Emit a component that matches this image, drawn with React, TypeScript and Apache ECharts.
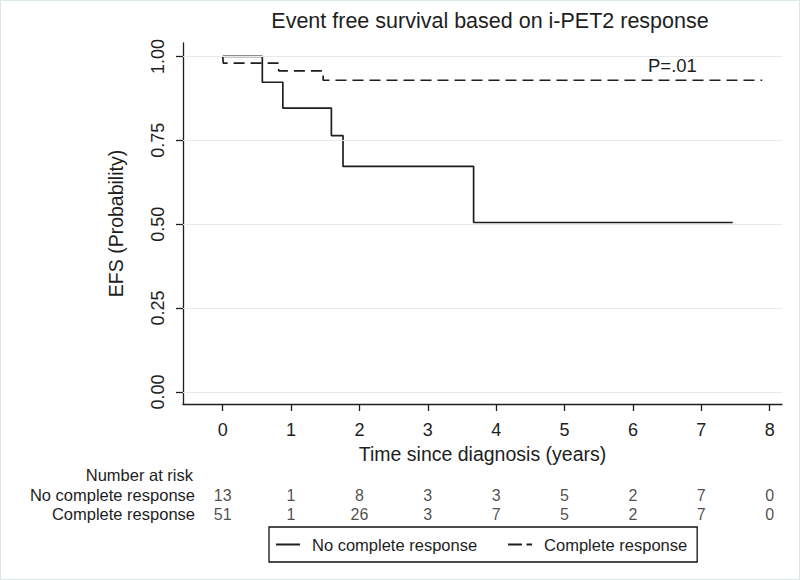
import React, { useEffect, useRef } from "react";
import * as echarts from "echarts";

const xTicks = [0, 1, 2, 3, 4, 5, 6, 7, 8];
const yTicks = [0, 0.25, 0.5, 0.75, 1];
const seriesNames = ["No complete response", "Complete response"];
// Kaplan-Meier steps [time, survival]
const noCR: [number, number][] = [
  [0, 1], [0.58, 0.923], [0.88, 0.846], [1.59, 0.764], [1.76, 0.672], [3.67, 0.505], [7.46, 0.505],
];
const cR: [number, number][] = [
  [0, 1], [0.01, 0.98], [0.82, 0.957], [1.47, 0.929], [7.89, 0.929],
];
const riskNoCR = [13, 1, 8, 3, 3, 5, 2, 7, 0];
const riskCR = [51, 1, 26, 3, 7, 5, 2, 7, 0];
const pText = "P=.01";

const FONT = "Liberation Sans, Arial, sans-serif";
const INK = "#1e1e1e";

export default function App() {
  const ref = useRef<HTMLDivElement>(null);
  useEffect(() => {
    const chart = echarts.init(ref.current!, undefined, { renderer: "svg" });
    const xMin = -0.58, xMax = 8.18;
    const riskData = [
      ...riskNoCR.map((v, i) => [xTicks[i], 1, v]),
      ...riskCR.map((v, i) => [xTicks[i], 0, v]),
    ];
    chart.setOption({
      animation: false,
      backgroundColor: "#fff",
      title: {
        text: "Event free survival based on i-PET2 response",
        left: 484,
        textAlign: "center",
        top: 4,
        textStyle: { fontFamily: FONT, fontSize: 21.5, fontWeight: "normal", color: INK },
      },
      grid: [
        { left: 182, right: 17, top: 42, bottom: 175 },
        { left: 182, right: 17, top: 484.5, height: 38 },
      ],
      xAxis: [
        {
          type: "value",
          gridIndex: 0,
          min: xMin,
          max: xMax,
          name: "Time since diagnosis (years)",
          nameLocation: "middle",
          nameGap: 34,
          nameTextStyle: { fontFamily: FONT, fontSize: 19.5, color: INK },
          axisLine: { show: true, onZero: false, lineStyle: { color: INK, width: 1.3 } },
          axisTick: { show: true, customValues: xTicks, length: 7, lineStyle: { color: INK, width: 1.3 } },
          axisLabel: { customValues: xTicks, fontFamily: FONT, fontSize: 18, color: INK, margin: 17 },
          splitLine: { show: false },
        },
        {
          type: "value",
          gridIndex: 1,
          min: xMin,
          max: xMax,
          show: false,
        },
      ],
      yAxis: [
        {
          type: "value",
          gridIndex: 0,
          min: -0.036,
          max: 1.04,
          name: "EFS (Probability)",
          nameLocation: "middle",
          nameGap: 57,
          nameTextStyle: { fontFamily: FONT, fontSize: 19.5, color: INK },
          axisLine: { show: true, onZero: false, lineStyle: { color: INK, width: 1.3 } },
          axisTick: { show: true, customValues: yTicks, length: 7, lineStyle: { color: INK, width: 1.3 } },
          axisLabel: {
            customValues: yTicks,
            rotate: 90,
            fontFamily: FONT,
            fontSize: 18,
            color: INK,
            margin: 16,
            formatter: (v: number) => v.toFixed(2),
          },
          splitLine: { show: false },
        },
        {
          type: "category",
          gridIndex: 1,
          data: [seriesNames[1], seriesNames[0]],
          axisLine: { show: false },
          axisTick: { show: false },
          axisLabel: { interval: 0, hideOverlap: false, margin: -12, fontFamily: FONT, fontSize: 16.5, color: INK },
        },
      ],
      legend: {
        data: [
          { name: seriesNames[0], icon: "path://M0,0H24V2H0Z" },
          { name: seriesNames[1], icon: "path://M0,0H15V2H0Z M20,0H26V2H20Z" },
        ],
        left: 268,
        top: 526,
        orient: "horizontal",
        borderColor: "#111",
        borderWidth: 1.3,
        borderRadius: 0,
        padding: [9, 10, 9, 7],
        itemGap: 31,
        itemWidth: 24,
        itemHeight: 2,
        itemStyle: { color: INK, borderWidth: 0 },
        textStyle: { fontFamily: FONT, fontSize: 16.5, color: INK, padding: [0, 0, 0, 7] },
      },
      graphic: [
        {
          type: "text",
          right: 606,
          top: 465,
          style: { text: "Number at risk", fontFamily: FONT, fontSize: 16.5, fill: INK },
        },
        {
          type: "text",
          left: 647,
          top: 55,
          style: { text: pText, fontFamily: FONT, fontSize: 18.5, fill: INK },
        },
      ],
      series: [
        {
          name: "gridlines",
          type: "line",
          xAxisIndex: 0,
          yAxisIndex: 0,
          data: [],
          silent: true,
          markLine: {
            silent: true,
            symbol: "none",
            label: { show: false },
            lineStyle: { color: "#e4eaec", width: 1, type: "solid" },
            data: yTicks.map((y) => ({ yAxis: y })),
          },
        },
        {
          name: seriesNames[0],
          type: "line",
          xAxisIndex: 0,
          yAxisIndex: 0,
          step: "end",
          showSymbol: false,
          symbol: "none",
          data: noCR,
          lineStyle: { color: INK, width: 1.7, type: "solid" },
          itemStyle: { color: INK },
        },
        {
          name: seriesNames[1],
          type: "line",
          xAxisIndex: 0,
          yAxisIndex: 0,
          step: "end",
          showSymbol: false,
          symbol: "none",
          data: cR,
          lineStyle: { color: INK, width: 1.7, type: [11, 6] },
          itemStyle: { color: INK },
        },
        {
          name: "risk",
          type: "scatter",
          xAxisIndex: 1,
          yAxisIndex: 1,
          symbolSize: 1,
          itemStyle: { color: "rgba(0,0,0,0)" },
          silent: true,
          data: riskData,
          label: {
            show: true,
            position: "inside",
            formatter: (p: any) => String(p.value[2]),
            fontFamily: FONT,
            fontSize: 16,
            color: INK,
          },
        },
      ],
    });
    return () => chart.dispose();
  }, []);
  return (
    <div
      ref={ref}
      style={{
        position: "fixed",
        left: 0,
        top: 0,
        width: 800,
        height: 580,
        boxSizing: "border-box",
        border: "1px solid #dbe6e8",
      }}
    />
  );
}
